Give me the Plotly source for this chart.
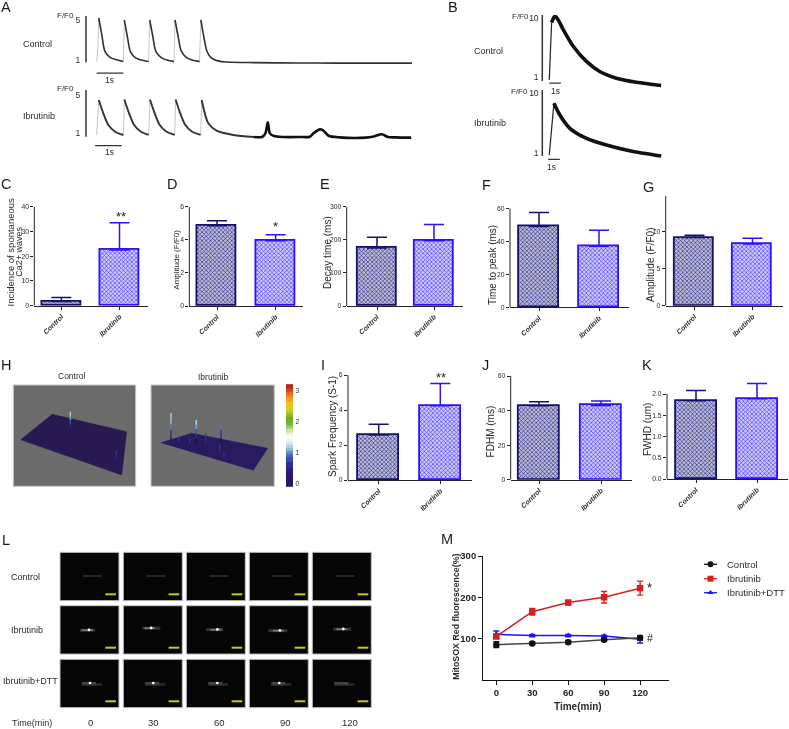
import plotly.graph_objects as go

W, H = 789, 729
FONT = "Liberation Sans"
INK = "#2a2a2a"

# ---------- Panel A traces: time (s), F/F0 ----------
a_ctrl_t = [0.08, 0.2, 0.31, 0.5, 0.75, 1.0, None, 1.04, 1.16, 1.27, 1.46, 1.71, 1.95, None,
            1.99, 2.11, 2.22, 2.41, 2.66, 2.9, None, 2.94, 3.06, 3.17, 3.36, 3.61, 3.86, None,
            3.91, 4.02, 4.14, 4.3, 4.58, 4.9, 5.9, 7.5, 9.0, 10.5, 11.83]
a_ctrl_f = [5.2, 3.4, 1.85, 1.25, 1.0, 0.83, None, 5.0, 3.2, 1.8, 1.2, 0.95, 0.83, None,
            5.0, 3.3, 1.85, 1.25, 0.95, 0.82, None, 5.0, 3.3, 1.9, 1.25, 0.95, 0.82, None,
            5.0, 3.3, 1.83, 1.2, 0.87, 0.78, 0.72, 0.68, 0.67, 0.67, 0.67]
a_ctrl_up_t = [-0.02, 0.0, 0.08, None, 1.0, 1.04, None, 1.95, 1.99, None, 2.9, 2.94, None, 3.86, 3.91]
a_ctrl_up_f = [0.8, 0.85, 5.2, None, 0.83, 5.0, None, 0.82, 5.0, None, 0.82, 5.0, None, 0.82, 5.0]

a_ibr_t = [0.08, 0.25, 0.44, 0.69, 1.0, None, 1.04, 1.21, 1.4, 1.65, 1.95, None,
           2.0, 2.17, 2.36, 2.61, 2.93, None, 2.96, 3.13, 3.32, 3.57, 3.9, None,
           3.94, 4.19, 4.5, 5.13, 5.9]
a_ibr_f = [4.5, 3.1, 1.87, 1.17, 0.83, None, 4.55, 3.15, 1.9, 1.2, 0.85, None,
           4.55, 3.15, 1.9, 1.2, 0.85, None, 4.55, 3.15, 1.9, 1.2, 0.85, None,
           4.5, 2.05, 1.28, 0.83, 0.62]
a_ibr_up_t = [0.0, 0.08, None, 1.0, 1.04, None, 1.95, 2.0, None, 2.93, 2.96, None, 3.9, 3.94]
a_ibr_up_f = [0.85, 4.5, None, 0.83, 4.55, None, 0.85, 4.55, None, 0.85, 4.55, None, 0.85, 4.5]
a_ibr_late_t = [5.9, 6.2, 6.33, 6.42, 6.5, 6.65, 7.0, 7.6, 8.0, 8.13, 8.38, 8.5, 8.7, 9.1, 10.1, 10.4, 10.7, 10.93, 11.2, 11.8]
a_ibr_late_f = [0.62, 0.62, 1.0, 2.15, 1.0, 0.72, 0.62, 0.62, 0.65, 1.0, 1.42, 1.3, 0.75, 0.58, 0.55, 0.68, 0.9, 0.62, 0.58, 0.55]

# ---------- Panel B traces ----------
b_ctrl_up_t = [0.0, 0.2]
b_ctrl_up_f = [0.59, 9.24]
b_ctrl_t = [0.2, 0.49, 0.77, 1.2, 2.06, 3.2, 4.34, 5.77, 7.49, 9.63]
b_ctrl_f = [9.24, 10.25, 9.64, 8.2, 5.68, 3.39, 1.86, 0.85, 0.24, -0.27]
b_ibr_up_t = [0.0, 0.4]
b_ibr_up_f = [0.65, 8.48]
b_ibr_t = [0.4, 0.91, 1.77, 3.2, 4.91, 6.91, 9.63]
b_ibr_f = [8.48, 6.71, 4.69, 3.17, 2.16, 1.3, 0.49]

# ---------- Bar panels ----------
groups = ["Control", "Ibrutinib"]
c_vals, c_errs = [1.7, 22.5], [1.6, 11.0]
d_vals, d_errs = [4.85, 3.95], [0.3, 0.35]
e_vals, e_errs = [175, 197], [33, 49]
f_vals, f_errs = [48.9, 37.0], [8.5, 9.7]
g_vals, g_errs = [9.2, 8.33], [0.3, 0.77]
i_vals, i_errs = [2.57, 4.25], [0.62, 1.27]
j_vals, j_errs = [42.8, 43.0], [2.3, 2.6]
k_vals, k_errs = [1.84, 1.89], [0.24, 0.36]

# ---------- Panel M ----------
m_time = [0, 30, 60, 90, 120]
m_ctrl, m_ctrl_err = [85, 88, 91, 97, 102], [7, 3, 4, 3, 5]
m_ibr, m_ibr_err = [105, 165, 187, 200, 222], [5, 8, 5, 14, 17]
m_dtt, m_dtt_err = [110, 107, 107, 106, 98], [8, 3, 3, 2, 9]

# ---------- Panel H colour scale ----------
cb_z = [-0.1, 0.0, 0.2, 0.4, 0.6, 0.8, 0.9, 1.0, 1.1, 1.2, 1.3, 1.4, 1.5, 1.6, 1.7, 1.8, 1.9,
        2.0, 2.1, 2.2, 2.3, 2.4, 2.5, 2.6, 2.7, 2.8, 2.9, 3.0, 3.1, 3.2]
cb_colors = [[0, "#2a1464"], [0.14, "#2c1a78"], [0.25, "#3338a8"], [0.32, "#4f7fc8"], [0.37, "#8fc8cf"],
             [0.43, "#d8ecec"], [0.48, "#ffffff"], [0.53, "#e6f0c8"], [0.6, "#7fb83c"], [0.66, "#6aa82a"],
             [0.75, "#d8d020"], [0.82, "#f0c020"], [0.9, "#e8741c"], [0.96, "#d02a20"], [1, "#a81818"]]

# ---------- Panel L image contents: offsets inside a 59x48 frame ----------
l_frame_left = [60, 123.3, 186.3, 249.3, 312.3]
l_frame_top = [552.3, 605.7, 659.3]
l_times = ["0", "30", "60", "90", "120"]
# (streak start, streak end, streak y, spot x) per image
l_ctrl = [(23, 42, 23.7, None)] * 5
l_ibr = [(20, 35, 24.5, 29), (19, 37, 22.5, 28), (20, 37, 24, 31), (19, 38, 25, 30.5), (21, 39, 23.5, 31)]
l_dtt = [(22, 42, 24, 30), (22, 42, 24, 30), (22, 42, 24, 31), (22, 42, 24, 30), (22, 42, 24, None)]

fig = go.Figure()
layout = {}
n_axes = 0


def px(x):
    return x / W


def py(y):
    return 1 - y / H


def new_axes(x0, x1, ytop, ybot, xkw, ykw):
    global n_axes
    n_axes += 1
    s = "" if n_axes == 1 else str(n_axes)
    a = dict(domain=[px(x0), px(x1)], anchor="y" + s, showgrid=False, zeroline=False, fixedrange=True, automargin=False)
    b = dict(domain=[py(ybot), py(ytop)], anchor="x" + s, showgrid=False, zeroline=False, fixedrange=True, automargin=False)
    a.update(xkw)
    b.update(ykw)
    layout["xaxis" + s] = a
    layout["yaxis" + s] = b
    return "x" + s, "y" + s


annots = []
shapes = []


def text(x, y, s, size=9.5, color=INK, angle=0, **kw):
    annots.append(dict(x=px(x), y=py(y), xref="paper", yref="paper", text=s, showarrow=False,
                       textangle=angle, font=dict(family=FONT, size=size, color=color),
                       xanchor=kw.pop("xanchor", "center"), yanchor="middle", **kw))


# ---- panel letters ----
for s, x, y in [("A", 5.5, 7), ("B", 453, 7), ("C", 6, 184), ("D", 172, 184), ("E", 325, 184), ("F", 486, 185),
                ("G", 648, 187), ("H", 6, 365), ("I", 323, 365), ("J", 485.5, 365), ("K", 647, 365),
                ("L", 6, 540), ("M", 447, 539)]:
    text(x, y, s, size=14.5, color="#1a1a1a")


def trace_panel(x0, x1, ytop, ybot, xr, yr, ticks, bar_t, bar_f, ticklen=3):
    """Axis bar covers ytop..ybot; the plot area is padded so that the traces and scale bar are not cut."""
    pad_b, pad_r = 24, 10
    unit_y = (yr[1] - yr[0]) / (ybot - ytop)
    unit_x = (xr[1] - xr[0]) / (x1 - x0)
    xa, ya = new_axes(x0, x1 + pad_r, ytop, ybot + pad_b,
                      dict(range=[xr[0], xr[1] + pad_r * unit_x], visible=False),
                      dict(range=[yr[0] - pad_b * unit_y, yr[1]], tickmode="array", tickvals=ticks, ticklen=ticklen,
                           tickcolor="rgba(0,0,0,0)", showline=False, ticks="outside",
                           tickfont=dict(family=FONT, size=8.5, color=INK)))
    shapes.append(dict(type="line", xref="paper", x0=px(x0), x1=px(x0), yref=ya, y0=yr[0], y1=yr[1],
                       line=dict(color="#333333", width=1.5)))
    shapes.append(dict(type="line", xref=xa, yref=ya, x0=bar_t[0], x1=bar_t[1], y0=bar_f, y1=bar_f,
                       line=dict(color="#333333", width=1.3)))
    return xa, ya


def line(xa, ya, t, f, color="#303030", width=1.6):
    fig.add_trace(go.Scatter(x=t, y=f, xaxis=xa, yaxis=ya, mode="lines", showlegend=False, cliponaxis=False,
                             line=dict(color=color, width=width, shape="spline", smoothing=0.8), connectgaps=False))


# ---- A ----
xa, ya = trace_panel(86, 412, 16, 62.5, [-0.4, 11.83], [0.73, 5.4], [1, 5], [0, 1], -0.33)
line(xa, ya, a_ctrl_up_t, a_ctrl_up_f, "#b8b8b8", 0.8)
line(xa, ya, a_ctrl_t, a_ctrl_f)
text(65.7, 15.7, "F/F0", 8)
text(37, 44, "Control", 9)
text(110, 80.5, "1s", 8.5)

xa, ya = trace_panel(86, 412, 90, 136.7, [-0.4, 11.83], [0.65, 5.55], [1, 5], [-0.06, 0.94], -0.29)
line(xa, ya, a_ibr_up_t, a_ibr_up_f, "#b8b8b8", 0.8)
line(xa, ya, a_ibr_t, a_ibr_f, "#333333", 1.9)
line(xa, ya, a_ibr_late_t, a_ibr_late_f, "#111111", 2.6)
text(65.7, 88.5, "F/F0", 8)
text(39, 116, "Ibrutinib", 9)
text(109, 151.5, "1s", 8.5)

# ---- B ----
xa, ya = trace_panel(542.3, 662, 15, 81, [-0.6, 9.7], [0.42, 10.4], [1, 10], [0, 1], 0.09, ticklen=1)
line(xa, ya, b_ctrl_up_t, b_ctrl_up_f, "#222222", 1.2)
line(xa, ya, b_ctrl_t, b_ctrl_f, "#111111", 3.6)
text(520, 16.7, "F/F0", 8)
text(488, 51, "Control", 9)
text(555, 90.7, "1s", 8.5)

xa, ya = trace_panel(542.3, 662, 90, 156, [-0.6, 9.7], [0.5, 10.5], [1, 10], [-0.09, 0.91], -0.01, ticklen=1)
line(xa, ya, b_ibr_up_t, b_ibr_up_f, "#222222", 1.2)
line(xa, ya, b_ibr_t, b_ibr_f, "#111111", 3.6)
text(519, 91.7, "F/F0", 8)
text(490, 122.7, "Ibrutinib", 9)
text(551.7, 166.7, "1s", 8.5)

BAR_STYLE = {
    "Control": ("#1b1478", "#14106a", "#bcbcd8"),
    "Ibrutinib": ("#3a1cff", "#2a10ff", "#ccccff"),
}


def bar_panel(x0, x1, ytop, ybot, ymax, ticks, cx, bw, vals, errs, ticktext=None, head=0):
    """cx = pixel centres of the two bars, bw = bar width in px, head = free px above the axis top"""
    unit = cx[1] - cx[0]
    r0 = (x0 - cx[0]) / unit
    r1 = (x1 - cx[0]) / unit
    xa, ya = new_axes(x0, x1, ytop - head, ybot,
                      dict(type="category", categoryorder="array", categoryarray=groups, range=[r0, r1],
                           showline=True, linecolor="#222222", linewidth=1.3, ticks="outside", ticklen=3,
                           tickcolor="#222222", tickangle=-45,
                           tickfont=dict(family=FONT, size=7, color=INK, style="italic", weight="bold")),
                      dict(range=[0, ymax + head * ymax / (ybot - ytop)], tickmode="array", tickvals=ticks,
                           ticktext=ticktext if ticktext else [str(t) for t in ticks],
                           showline=False, ticks="outside", ticklen=3,
                           tickcolor="#222222", tickfont=dict(family=FONT, size=6.8, color=INK)))
    shapes.append(dict(type="line", xref="paper", x0=px(x0), x1=px(x0), yref=ya, y0=0, y1=ymax,
                       line=dict(color="#222222", width=1)))
    for g, v, e in zip(groups, vals, errs):
        fg, ln, bg = BAR_STYLE[g]
        fig.add_trace(go.Bar(x=[g], y=[v], xaxis=xa, yaxis=ya, width=bw / unit, showlegend=False, cliponaxis=False,
                             marker=dict(color=bg, line=dict(color=ln, width=1.8),
                                         pattern=dict(shape="x", size=3, solidity=0.35, fgcolor=fg, bgcolor=bg)),
                             error_y=dict(type="data", symmetric=False, array=[e], arrayminus=[0],
                                          color=ln, thickness=1.5, width=10)))
    return xa, ya


bar_panel(34.3, 148, 206.7, 305.7, 40, [0, 10, 20, 30, 40], [61.4, 119.5], 39, c_vals, c_errs)
text(9.5, 252, "Incidence of spontaneous", 9.5, angle=-90)
text(18.8, 252, "Ca2+ waves", 9, angle=-90)
text(120.7, 216, "**", 13, color="#222222")

bar_panel(189.3, 303, 206.7, 306, 6, [0, 2, 4, 6], [217, 275.6], 39, d_vals, d_errs)
text(175.7, 260, "Amplitude (F/F0)", 8, angle=-90)
text(275, 227, "*", 13, color="#222222")

bar_panel(346.7, 462.7, 206.7, 306, 300, [0, 100, 200, 300], [377, 434], 38.5, e_vals, e_errs)
text(328, 253, "Decay time (ms)", 10, angle=-90)

bar_panel(510, 629, 208.3, 307.3, 60, [0, 20, 40, 60], [539, 599], 40, f_vals, f_errs)
text(492, 265, "Time to peak (ms)", 10, angle=-90)

bar_panel(665.7, 782.7, 196, 305.7, 14.8, [0, 5, 10], [694.5, 752.5], 39, g_vals, g_errs)
text(650, 265, "Amplitude (F/F0)", 10, angle=-90)

bar_panel(348, 471.7, 375, 480, 6, [0, 2, 4, 6], [378.7, 440.3], 40.5, i_vals, i_errs)
text(332, 427, "Spark Frequency (S-1)", 10, angle=-90)
text(441, 377, "**", 13, color="#222222")

bar_panel(510.7, 631.7, 376, 479.7, 60, [0, 20, 40, 60], [539, 601], 41.5, j_vals, j_errs)
text(490.7, 431.7, "FDHM (ms)", 10, angle=-90)

bar_panel(667, 788, 394, 479, 2.0, [0, 0.5, 1, 1.5, 2], [696, 757], 41, k_vals, k_errs,
          ticktext=["0.0", "0.5", "1.0", "1.5", "2.0"], head=14)
text(647, 430, "FWHD (um)", 10, angle=-90)

# ---- overlay in image pixels: panels H and L, legend of M ----
ox, oy = new_axes(0, W, 0, H, dict(range=[0, W], visible=False), dict(range=[H, 0], visible=False))


def rect(x0, y0, x1, y1, fill, border):
    shapes.append(dict(type="rect", xref=ox, yref=oy, x0=x0, y0=y0, x1=x1, y1=y1, fillcolor=fill,
                       line=dict(color=border, width=1), layer="below"))


def poly(xs, ys, color):
    fig.add_trace(go.Scatter(x=xs, y=ys, xaxis=ox, yaxis=oy, mode="lines", fill="toself", fillcolor=color,
                             line=dict(color=color, width=0.5), showlegend=False, hoverinfo="skip"))


def spike(x, base, top, colors, width=1.2):
    n = len(colors)
    for i, c in enumerate(colors):
        y0 = base + (top - base) * i / n
        y1 = base + (top - base) * (i + 1) / n
        fig.add_trace(go.Scatter(x=[x, x], y=[y0, y1], xaxis=ox, yaxis=oy, mode="lines",
                                 line=dict(color=c, width=width), showlegend=False, hoverinfo="skip"))


rect(13.3, 385, 135.7, 486.3, "#6c6c6c", "#c8c8c8")
rect(151, 385, 274.3, 486.3, "#6c6c6c", "#c8c8c8")
poly([52.3, 126.7, 121.7, 20.7, 52.3], [414.3, 431.7, 475, 439.7, 414.3], "#2a1a52")
poly([191.7, 267.7, 253.3, 161, 191.7], [433.3, 448.3, 470.3, 442.7, 433.3], "#2a1a60")
SP_TALL = ["#1e1450", "#2c2a90", "#3d5ab8", "#7fb8c8", "#b8dce0"]
SP_MID = ["#1e1450", "#2c2a90", "#3338a8", "#4f7fc8"]
SP_LOW = ["#2c1a78", "#33309a", "#3a3ca8"]
spike(70.3, 432.3, 411.7, SP_TALL)
spike(116.3, 461, 451, SP_LOW)
spike(171, 441, 413, ["#1e1450", "#2c2a90", "#5a7cb8", "#a8c8d0", "#c8dcdc"])
spike(196.3, 443, 420, ["#10102a", "#2c2a90", "#3d50b8", "#6fa8d0", "#a8dce0"], 1.6)
spike(205.7, 446, 433, SP_LOW)
spike(221, 442, 425, SP_MID, 1.4)
spike(219.5, 455, 445, SP_LOW)
spike(178.5, 443, 438, SP_LOW)
spike(190, 445, 439, SP_LOW)
spike(224, 460, 453, SP_LOW)

# colour bar as a real heat strip
cbx, cby = new_axes(286, 293.3, 384.3, 486.7,
                    dict(visible=False, range=[-0.5, 0.5]),
                    dict(range=[-0.11, 3.2], side="right", tickmode="array", tickvals=[0, 1, 2, 3],
                         ticklen=0, showline=False, tickfont=dict(family=FONT, size=6.5, color=INK)))
fig.add_trace(go.Heatmap(z=[[v] for v in cb_z], x=[0], y=cb_z, xaxis=cbx, yaxis=cby, colorscale=cb_colors,
                         zmin=-0.1, zmax=3.2, showscale=False, hoverinfo="skip"))
text(71.7, 375.7, "Control", 8.5)
text(213.3, 377.3, "Ibrutinib", 8.5)


def streak(x0, x1, y, color, width):
    fig.add_trace(go.Scatter(x=[x0, x1], y=[y, y], xaxis=ox, yaxis=oy, mode="lines",
                             line=dict(color=color, width=width), showlegend=False, hoverinfo="skip"))


# ---- L ----
for r, (top, row) in enumerate(zip(l_frame_top, [l_ctrl, l_ibr, l_dtt])):
    for left, (s0, s1, sy, spot) in zip(l_frame_left, row):
        rect(left, top, left + 59, top + 48.4, "#060606", "#c4c4c4")
        if r == 0:
            streak(left + s0, left + s1, top + sy, "#303030", 1.6)
        elif r == 1:
            streak(left + s0, left + s1, top + sy, "#343434", 3)
            streak(left + spot - 7, left + spot + 4, top + sy, "#7a7a7a", 1.6)
        else:
            streak(left + s0, left + s1, top + sy + 1.2, "#2a2a2a", 2.6)
            streak(left + s0, left + s0 + 14, top + sy, "#444444", 2.6)
        if spot is not None:
            fig.add_trace(go.Scatter(x=[left + spot], y=[top + sy - 0.3], xaxis=ox, yaxis=oy, mode="markers",
                                     marker=dict(color="#ffffff", size=2.6), showlegend=False, hoverinfo="skip"))
        streak(left + 45.3, left + 56, top + 42, "#c8c81e", 2)
text(25, 576.7, "Control", 9)
text(27, 630, "Ibrutinib", 9)
text(30, 680.7, "Ibrutinib+DTT", 9)
text(31.7, 722.7, "Time(min)", 9)
for s, x in zip(l_times, [90, 153.5, 220, 285, 350]):
    text(x, 722.7, s, 9.5)

# ---- M ----
mx, my = new_axes(483.3, 668.7, 556, 679.7,
                  dict(range=[-10.86, 143.9], tickmode="array", tickvals=m_time, showline=True, linecolor="#111111",
                       linewidth=1.4, ticks="outside", ticklen=4, tickwidth=1.2, tickcolor="#111111",
                       tickfont=dict(family=FONT, size=9.5, color="#222222", weight="bold")),
                  dict(range=[0, 300], tickmode="array", tickvals=[100, 200, 300], showline=True, linecolor="#111111",
                       linewidth=1.4, ticks="outside", ticklen=4, tickwidth=1.2, tickcolor="#111111",
                       tickfont=dict(family=FONT, size=9.5, color="#222222", weight="bold")))
M_SERIES = [("Control", m_ctrl, m_ctrl_err, "#111111", "#444444", "circle", 6.5),
            ("Ibrutinib", m_ibr, m_ibr_err, "#d81e1e", "#d81e1e", "square", 6.5),
            ("Ibrutinib+DTT", m_dtt, m_dtt_err, "#1a14f0", "#1a14f0", "triangle-up", 6)]
for order in (2, 1, 0):
    name, vals, errs, mc, lc, sym, size = M_SERIES[order]
    fig.add_trace(go.Scatter(x=m_time, y=vals, xaxis=mx, yaxis=my, name=name, mode="lines+markers", showlegend=False,
                             cliponaxis=False, line=dict(color=lc, width=1.5),
                             marker=dict(color=mc, symbol=sym, size=size),
                             error_y=dict(type="data", array=errs, color=mc, thickness=1.4, width=3)))
for (name, vals, errs, mc, lc, sym, size), ly in zip(M_SERIES, [564.3, 578.7, 592.7]):
    fig.add_trace(go.Scatter(x=[704, 710.5, 717], y=[ly, ly, ly], xaxis=ox, yaxis=oy, mode="lines", showlegend=False,
                             line=dict(color="#111111" if sym == "circle" else lc, width=1.3), hoverinfo="skip"))
    fig.add_trace(go.Scatter(x=[710.5], y=[ly], xaxis=ox, yaxis=oy, mode="markers", showlegend=False,
                             marker=dict(color=mc, symbol=sym, size=size - 0.5), hoverinfo="skip"))
    text(724.7, ly, name, 9.5, xanchor="left")
text(578, 706.7, "<b>Time(min)</b>", 10)
text(455.7, 617, "<b>MitoSOX Red fluorescence(%)</b>", 8.8, angle=-90)
text(649.5, 587, "*", 13, color="#111111")
text(649.5, 637.7, "#", 10.5, color="#111111")

fig.update_layout(template="none", width=W, height=H, autosize=False,
                  margin=dict(l=0, r=0, t=0, b=0, pad=0, autoexpand=False),
                  paper_bgcolor="#ffffff", plot_bgcolor="rgba(0,0,0,0)", barmode="overlay", bargap=0,
                  showlegend=False, annotations=annots, shapes=shapes,
                  font=dict(family=FONT, color=INK), **layout)
fig.write_html("out.html", config=dict(displayModeBar=False),
               post_script="document.body.style.margin='0';document.documentElement.style.overflow='hidden';document.body.style.filter='blur(0.4px)';")
